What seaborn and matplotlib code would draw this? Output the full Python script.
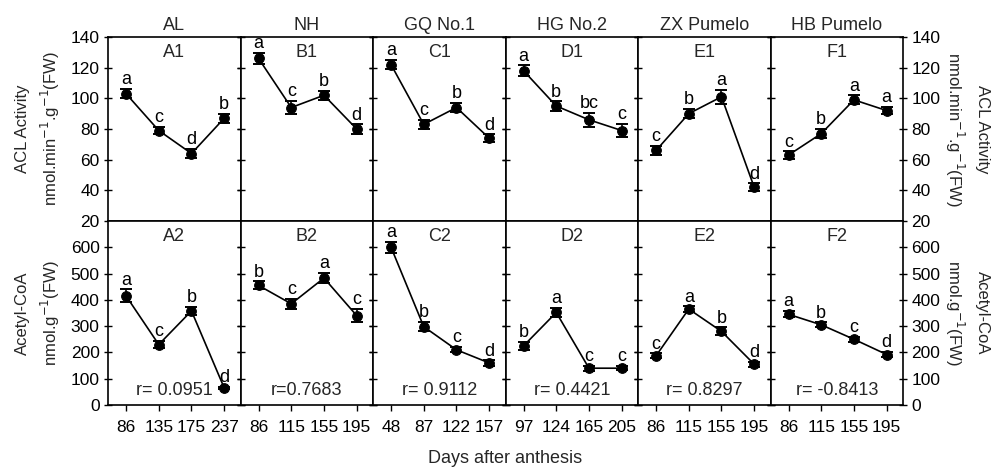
import matplotlib
matplotlib.use("Agg")
import matplotlib.pyplot as plt
import seaborn as sns
import numpy as np

sns.set_theme(style="white")
plt.rcParams['font.family'] = ['Liberation Sans', 'DejaVu Sans']

cultivars = ["AL", "NH", "GQ No.1", "HG No.2", "ZX Pumelo", "HB Pumelo"]
days = [["86", "135", "175", "237"],
        ["86", "115", "155", "195"],
        ["48", "87", "122", "157"],
        ["97", "124", "165", "205"],
        ["86", "115", "155", "195"],
        ["86", "115", "155", "195"]]
top_tags = ["A1", "B1", "C1", "D1", "E1", "F1"]
bot_tags = ["A2", "B2", "C2", "D2", "E2", "F2"]

acl = [[103, 79, 64, 87],
       [126, 94, 102, 80],
       [122, 83, 94, 74],
       [118, 95, 86, 79],
       [66, 90, 101, 42],
       [63, 77, 99, 92]]
acl_err = [[3, 2.5, 3, 3],
           [3.5, 4.5, 3, 3],
           [3, 3, 3, 2.5],
           [3.5, 3, 4.5, 4.5],
           [3, 3, 4.5, 2.5],
           [2.5, 3, 3, 2.5]]
acl_let = [["a", "c", "d", "b"],
           ["a", "c", "b", "d"],
           ["a", "c", "b", "d"],
           ["a", "b", "bc", "c"],
           ["c", "b", "a", "d"],
           ["c", "b", "a", "a"]]

coa = [[415, 230, 358, 65],
       [455, 385, 483, 340],
       [600, 298, 210, 160],
       [225, 352, 140, 140],
       [187, 365, 280, 155],
       [345, 305, 250, 192]]
coa_err = [[25, 15, 15, 5],
           [15, 18, 20, 25],
           [20, 18, 10, 10],
           [15, 18, 10, 8],
           [10, 10, 15, 10],
           [12, 10, 10, 10]]
coa_let = [["a", "c", "b", "d"],
           ["b", "c", "a", "c"],
           ["a", "b", "c", "d"],
           ["b", "a", "c", "c"],
           ["c", "a", "b", "d"],
           ["a", "b", "c", "d"]]
r_vals = ["r= 0.0951", "r=0.7683", "r= 0.9112", "r= 0.4421", "r= 0.8297", "r= -0.8413"]

fig, axes = plt.subplots(2, 6, figsize=(9.94, 4.7), dpi=100)
fig.subplots_adjust(left=0.1087, right=0.9085, top=0.9213, bottom=0.1383,
                    wspace=0, hspace=0)

pos = np.arange(4)
fs = 12.5
for j in range(6):
    for i, (vals, errs, lets, ylim, yt) in enumerate([
            (acl[j], acl_err[j], acl_let[j], (20, 140), np.arange(20, 141, 20)),
            (coa[j], coa_err[j], coa_let[j], (0, 700), np.arange(0, 601, 100))]):
        ax = axes[i, j]
        sns.lineplot(x=pos, y=vals, ax=ax, color="black", marker="o",
                     markersize=7, markeredgecolor="black", linewidth=1.2)
        ax.errorbar(pos, vals, yerr=errs, fmt="none", ecolor="black",
                    elinewidth=1.2, capsize=4.5, capthick=1.4)
        for x, v, e, l in zip(pos, vals, errs, lets):
            ax.annotate(l, (x, v + e), xytext=(0, 0.5), textcoords="offset points",
                        ha="center", va="bottom", fontsize=13, color="black")
        ax.set_xlim(-0.55, 3.5)
        ax.set_ylim(*ylim)
        ax.set_yticks(yt)
        ax.set_xticks(pos)
        for s in ax.spines.values():
            s.set_color("black")
            s.set_linewidth(1.2)
        ax.tick_params(axis="y", direction="inout", length=6, width=1,
                       left=True, right=True, labelleft=(j == 0),
                       labelright=(j == 5), labelsize=fs, colors="black", pad=3)
        ax.tick_params(axis="x", direction="out", length=4, width=1,
                       bottom=True, labelsize=fs, colors="black", pad=7)
        ax.set_xlabel("")
        ax.set_ylabel("")
        if i == 0:
            ax.set_xticklabels([])
            ax.set_title(cultivars[j], fontsize=13, pad=5)
            ax.text(0.5, 0.96, top_tags[j], transform=ax.transAxes,
                    ha="center", va="top", fontsize=13)
        else:
            ax.set_xticklabels(days[j])
            ax.text(0.5, 0.96, bot_tags[j], transform=ax.transAxes,
                    ha="center", va="top", fontsize=13)
            ax.text(0.5, 0.035, r_vals[j], transform=ax.transAxes,
                    ha="center", va="bottom", fontsize=13)

lbl_top = "ACL Activity\nnmol.min$^{-1}$.g$^{-1}$(FW)"
lbl_bot = "Acetyl-CoA\nnmol.g$^{-1}$(FW)"
axes[0, 0].set_ylabel(lbl_top, fontsize=12, labelpad=6, linespacing=1.5)
axes[1, 0].set_ylabel(lbl_bot, fontsize=12, labelpad=6, linespacing=1.5)
for i, lbl in enumerate([lbl_top, lbl_bot]):
    ax = axes[i, 5]
    ax.yaxis.set_label_position("right")
    ax.set_ylabel(lbl, fontsize=12, rotation=270, labelpad=36, linespacing=1.5)

fig.text(0.508, 0.025, "Days after anthesis", ha="center", va="center", fontsize=13)

fig.savefig("out.png", dpi=100)
